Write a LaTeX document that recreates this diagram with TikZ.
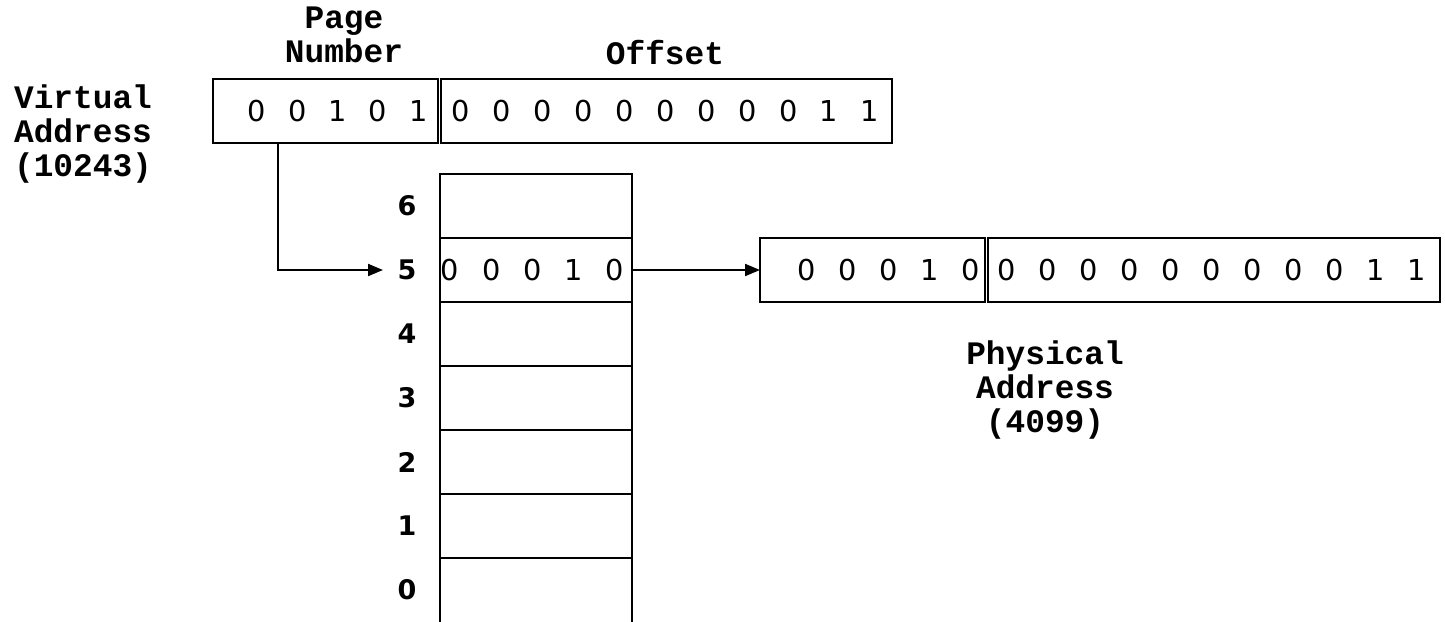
\documentclass[tikz,border=0pt]{standalone}
\usepackage{fontspec}
\usetikzlibrary{arrows.meta}
\newfontfamily\labfont{Liberation Mono}
\newfontfamily\digfont{DejaVu Sans}
\begin{document}
\begin{tikzpicture}[x=0.5pt,y=-0.5pt,
  box/.style={draw,line width=1pt,minimum height=32pt,inner sep=0pt,outer sep=0pt},
  dig/.style={font=\digfont\fontsize{14.4}{17}\selectfont,inner sep=0pt},
  lab/.style={font=\labfont\bfseries\fontsize{16.4}{16.8}\selectfont,align=center,inner sep=0pt},
  rowlab/.style={font=\digfont\bfseries\fontsize{13.5}{15}\selectfont,inner sep=0pt},
  arr/.style={line width=1pt,-{Triangle[length=7.5pt,width=6pt]}},
  ln/.style={line width=1pt}]
\useasboundingbox (0,0) rectangle (1445,621);
% virtual address boxes
\node[box,minimum width=112.5pt] (vpage) at (325.5,111) {};
\node[box,minimum width=225.5pt] (voff) at (666.5,111) {};
% physical address boxes
\node[box,minimum width=112.5pt] (ppage) at (872.5,270) {};
\node[box,minimum width=226pt] (poff) at (1214,270) {};
% page table rows
\foreach \r/\yy in {6/206,5/270,4/334,3/398,2/462,1/526}{
  \node[box,minimum width=96pt] (r\r) at (536,\yy) {};
  \node[rowlab] (l\r) at (407,\yy) {\r};
}
\node[rowlab] (l0) at (407,590) {0};
\coordinate (b0l) at (440,623);
\coordinate (b0r) at (632,623);
\draw[ln] (r1.south west) -- (b0l);
\draw[ln] (r1.south east) -- (b0r);
% digits
\foreach \d [count=\i from 0] in {0,0,1,0,1}
  \node[dig] (vp\i) at ({257+\i*40.3},111) {\d};
\foreach \d [count=\i from 0] in {0,0,0,0,0,0,0,0,0,1,1}
  \node[dig] (vo\i) at ({461+\i*40.9},111) {\d};
\foreach \d [count=\i from 0] in {0,0,0,1,0}
  \node[dig] (t\i) at ({450+\i*41.2},270) {\d};
\foreach \d [count=\i from 0] in {0,0,0,1,0}
  \node[dig] (pp\i) at ({807+\i*40.8},270) {\d};
\foreach \d [count=\i from 0] in {0,0,0,0,0,0,0,0,0,1,1}
  \node[dig] (po\i) at ({1007+\i*41},270) {\d};
% labels
\node[lab] (pn) at (344,35) {Page\\Number};
\node[lab] (off) at (665,53) {Offset};
\node[lab] (va) at (83,134) {Virtual\\Address\\(10243)};
\node[lab] (pa) at (1045,390) {Physical\\Address\\(4099)};
% connectors
\coordinate (tipa) at (383,270);
\draw[arr] ([xshift=-23.75pt]vpage.south) |- (tipa);
\draw[arr] (r5.east) -- (ppage.west);
\end{tikzpicture}
\end{document}
